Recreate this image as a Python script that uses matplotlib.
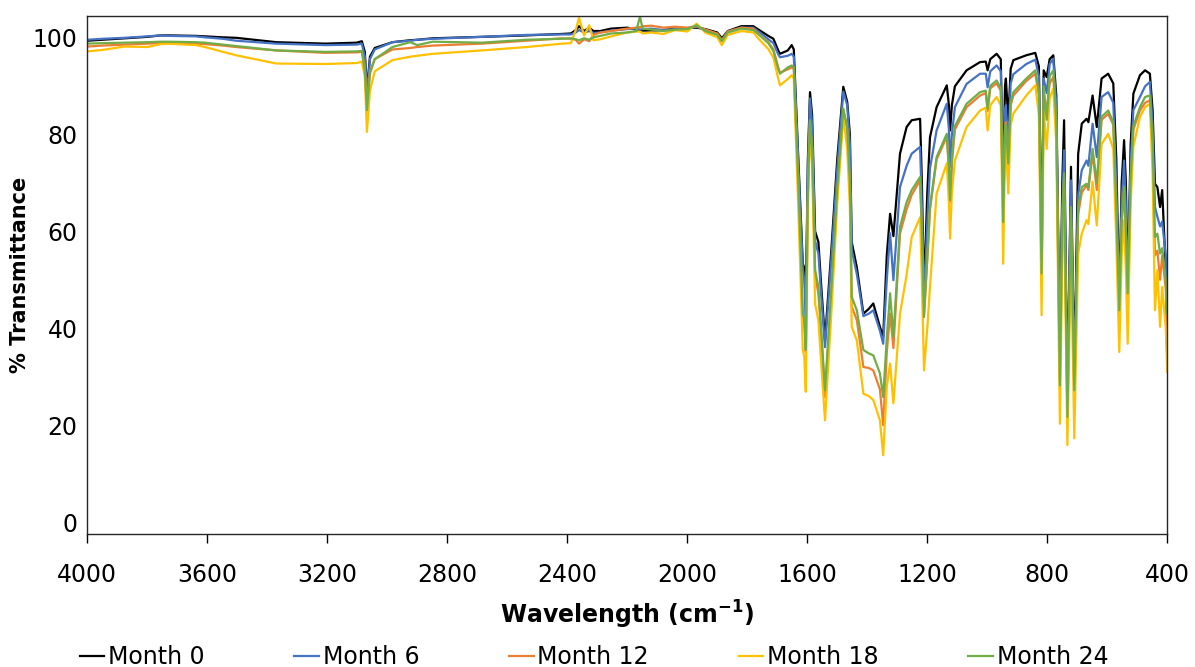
import matplotlib
matplotlib.use("Agg")
import matplotlib.pyplot as plt
import numpy as np

# wavenumber grid (cm-1), high to low
wavenumber = [4000, 3950, 3876, 3800, 3756, 3728, 3638, 3608, 3548, 3504,
              3370, 3206, 3102, 3085, 3075, 3068, 3058, 3042, 2983, 2924,
              2900, 2849, 2685, 2536, 2418, 2388, 2372, 2361, 2344, 2327,
              2313, 2290, 2254, 2200, 2170, 2158, 2149, 2120, 2080, 2040,
              2000, 1969, 1940, 1900, 1885, 1865, 1820, 1780, 1758, 1730,
              1713, 1697, 1691, 1665, 1652, 1645, 1630, 1615, 1610, 1605,
              1598, 1591, 1584, 1574, 1563, 1555, 1541, 1520, 1500, 1480,
              1467, 1458, 1452, 1435, 1413, 1395, 1380, 1358, 1347, 1335,
              1324, 1313, 1291, 1269, 1252, 1224, 1218, 1211, 1200, 1191,
              1169, 1135, 1128, 1124, 1118, 1108, 1069, 1024, 1005, 999,
              990, 969, 955, 947, 941, 938, 930, 922, 913, 870,
              840, 828, 819, 812, 802, 792, 780, 770, 758, 750,
              744, 733, 721, 710, 697, 685, 669, 663, 649, 635,
              619, 597, 580, 570, 560, 552, 544, 538, 532, 522,
              513, 491, 474, 458, 449, 441, 433, 424, 417, 405, 400]

month_0 = [99.3, 99.5, 99.8, 100.1, 100.4, 100.4, 100.3, 100.2, 100.0, 99.9,
           99.0, 98.7, 98.9, 99.2, 97.0, 89.0, 96.0, 97.8, 99.0, 99.4,
           99.5, 99.8, 100.1, 100.4, 100.7, 100.8, 101.5, 102.3, 101.3, 102.0,
           101.3, 101.3, 101.8, 102.0, 101.6, 101.5, 101.4, 101.4, 101.5, 101.8,
           101.9, 102.0, 101.7, 101.0, 99.8, 101.3, 102.3, 102.3, 101.4, 100.3,
           99.7, 97.3, 96.6, 97.3, 98.4, 97.5, 75.0, 53.3, 52.5, 45.0,
           75.0, 88.7, 84.0, 60.0, 57.8, 50.0, 37.5, 56.0, 75.0, 89.8,
           86.7, 80.0, 57.8, 52.6, 43.0, 44.0, 45.1, 40.3, 38.2, 55.0,
           63.6, 59.0, 76.0, 81.5, 82.9, 83.2, 70.0, 47.0, 68.0, 79.4,
           85.6, 90.1, 86.0, 80.8, 86.0, 89.9, 93.2, 94.9, 95.0, 93.2,
           95.5, 96.6, 95.5, 68.0, 90.0, 91.5, 82.9, 93.5, 95.3, 96.3,
           96.8, 94.0, 55.0, 93.2, 91.8, 95.5, 96.3, 88.0, 34.0, 70.0,
           82.9, 25.0, 73.3, 30.0, 76.0, 82.2, 83.2, 82.5, 88.0, 81.5,
           91.5, 92.5, 90.5, 75.0, 45.0, 70.0, 78.8, 70.0, 48.0, 78.0,
           88.4, 92.2, 93.2, 92.5, 85.0, 69.8, 69.1, 65.0, 68.5, 52.0, 33.0]

month_6 = [99.5, 99.7, 99.9, 100.2, 100.4, 100.3, 100.2, 100.0, 99.7, 99.3,
           98.7, 98.4, 98.5, 98.7, 96.0, 88.0, 95.5, 97.5, 99.0, 99.3,
           99.5, 99.7, 100.1, 100.5, 100.6, 100.6, 101.0, 101.5, 101.0, 101.3,
           100.9, 101.0, 101.4, 101.7, 101.8, 101.6, 101.7, 101.8, 101.5, 101.7,
           101.8, 102.2, 101.6, 100.7, 99.4, 101.2, 102.0, 102.0, 101.0, 99.6,
           98.8, 96.5, 95.9, 96.2, 96.6, 96.0, 74.0, 52.3, 50.0, 42.0,
           74.0, 87.4, 82.0, 58.0, 55.4, 48.0, 36.1, 54.0, 73.0, 88.8,
           86.0, 78.0, 56.2, 51.2, 42.5, 43.0, 43.7, 39.5, 36.8, 50.0,
           59.6, 49.9, 69.1, 73.5, 76.0, 77.4, 65.0, 45.0, 62.0, 73.0,
           80.8, 86.3, 81.0, 73.3, 80.0, 85.6, 90.4, 92.5, 92.5, 89.7,
           93.0, 94.2, 93.0, 65.0, 85.0, 86.0, 77.4, 90.5, 92.4, 94.5,
           95.4, 92.0, 52.0, 91.5, 88.5, 94.5, 95.6, 86.0, 32.0, 65.0,
           76.7, 24.0, 70.5, 28.0, 67.5, 72.6, 74.6, 73.5, 82.2, 75.3,
           87.7, 88.7, 86.5, 70.0, 44.0, 66.0, 74.6, 65.0, 47.0, 74.0,
           85.0, 87.7, 89.9, 90.8, 82.0, 65.0, 63.0, 61.0, 62.0, 55.0, 48.0]

month_12 = [98.1, 98.3, 98.5, 98.7, 98.8, 98.8, 98.7, 98.6, 98.3, 98.0,
            97.3, 96.8, 96.9, 97.0, 94.0, 86.0, 93.0, 95.5, 97.5, 97.8,
            98.0, 98.3, 98.7, 99.3, 99.8, 99.7, 99.5, 98.7, 99.6, 99.2,
            100.5, 101.0, 101.3, 101.8, 102.0, 102.1, 102.3, 102.4, 102.0, 102.2,
            102.0, 102.3, 101.6, 100.8, 99.4, 101.2, 102.0, 101.8, 100.4, 99.0,
            97.5, 93.8, 92.7, 93.4, 93.8, 93.5, 70.0, 42.0, 41.0, 35.0,
            68.0, 82.6, 77.0, 51.0, 47.1, 40.0, 25.8, 47.0, 68.0, 85.0,
            81.0, 70.0, 44.5, 41.7, 32.0, 31.8, 31.3, 27.4, 20.0, 35.0,
            43.0, 35.9, 59.5, 64.5, 67.5, 70.5, 60.0, 43.0, 54.0, 64.5,
            74.8, 79.5, 73.0, 66.0, 74.0, 81.0, 85.6, 88.0, 88.5, 84.8,
            89.5, 90.5, 89.0, 62.5, 81.0, 82.5, 73.0, 86.0, 88.0, 91.0,
            92.5, 88.0, 51.0, 88.0, 85.0, 90.5, 91.8, 82.0, 29.0, 62.0,
            71.0, 22.0, 63.6, 27.0, 63.5, 68.0, 69.5, 68.5, 76.1, 68.5,
            83.0, 84.2, 82.0, 65.0, 42.0, 62.0, 68.5, 60.0, 47.0, 70.0,
            81.0, 84.9, 86.5, 87.0, 78.0, 55.0, 56.0, 50.0, 55.0, 48.0, 37.0]

month_18 = [97.1, 97.4, 98.1, 98.0, 98.6, 98.7, 98.4, 98.0, 97.0, 96.3,
            94.6, 94.5, 94.7, 95.0, 92.0, 80.5, 89.0, 93.0, 95.3, 96.0,
            96.2, 96.6, 97.3, 98.0, 98.7, 98.8, 101.5, 104.0, 100.4, 102.5,
            99.4, 99.6, 100.2, 101.0, 101.2, 101.2, 100.8, 101.0, 100.7, 101.5,
            101.2, 102.8, 101.0, 100.0, 98.4, 100.5, 101.3, 101.0, 99.4, 97.6,
            95.8, 91.5, 90.1, 91.4, 92.2, 91.5, 65.0, 35.5, 34.0, 26.9,
            65.0, 80.8, 74.0, 45.0, 41.6, 34.0, 21.0, 43.0, 66.0, 83.6,
            77.0, 65.0, 40.3, 37.5, 26.5, 26.0, 25.2, 21.0, 13.8, 28.0,
            32.7, 24.5, 43.0, 51.0, 58.8, 62.9, 50.0, 31.3, 40.0, 48.5,
            67.8, 74.0, 66.0, 58.5, 68.0, 74.6, 81.5, 84.9, 85.5, 80.8,
            86.0, 87.7, 86.0, 53.3, 77.0, 78.0, 67.8, 82.0, 84.3, 88.0,
            90.1, 84.0, 42.7, 85.0, 77.0, 87.5, 89.4, 78.0, 20.3, 55.0,
            66.0, 15.9, 57.0, 17.3, 55.4, 59.5, 62.3, 61.5, 70.2, 61.2,
            78.0, 80.1, 77.0, 58.0, 35.1, 55.0, 62.3, 52.0, 36.8, 66.0,
            77.5, 83.6, 85.6, 86.3, 72.0, 43.7, 52.0, 40.3, 48.5, 40.0, 31.0]

month_24 = [98.7, 98.8, 98.9, 99.0, 99.1, 99.1, 99.0, 98.9, 98.5, 98.2,
            97.3, 97.0, 97.1, 97.2, 93.0, 85.0, 92.5, 95.5, 98.0, 99.0,
            98.4, 99.1, 98.9, 99.5, 99.7, 99.8, 99.6, 99.4, 99.8, 99.5,
            100.0, 100.3, 100.8, 101.0, 101.3, 104.3, 101.8, 101.6, 101.3, 101.6,
            101.7, 102.5, 101.3, 100.5, 99.2, 101.0, 101.8, 101.5, 100.4, 98.8,
            97.2, 93.5, 92.5, 93.8, 94.2, 93.8, 70.0, 43.0, 42.0, 35.5,
            68.0, 82.9, 77.0, 52.0, 48.5, 41.0, 27.2, 48.0, 69.0, 85.3,
            81.5, 70.0, 46.5, 43.7, 35.5, 34.8, 34.4, 30.7, 25.8, 38.0,
            47.2, 38.2, 60.9, 66.0, 68.5, 71.2, 60.0, 42.3, 55.0, 65.0,
            75.3, 80.1, 73.0, 66.4, 75.0, 81.7, 86.3, 88.7, 89.0, 85.3,
            90.0, 91.1, 89.5, 61.9, 81.0, 82.0, 74.0, 86.5, 88.7, 91.5,
            93.2, 89.0, 51.3, 89.9, 83.0, 92.0, 93.2, 83.0, 28.2, 62.0,
            72.0, 21.7, 65.0, 27.2, 65.0, 69.1, 69.8, 69.0, 77.0, 70.0,
            83.6, 84.9, 82.5, 65.0, 43.7, 62.0, 69.1, 60.0, 47.2, 71.0,
            81.7, 85.6, 87.7, 88.0, 78.0, 58.8, 59.5, 55.4, 56.5, 50.0, 43.0]

labels = ["Month 0", "Month 6", "Month 12", "Month 18", "Month 24"]
colors = ["#000000", "#4472C4", "#ED7D31", "#FFC000", "#70AD47"]
series = [month_0, month_6, month_12, month_18, month_24]

fig = plt.figure(figsize=(11.95, 6.67), dpi=100)
ax = fig.add_axes([0.0731, 0.199, 0.9037, 0.777])

for s, c, lab in zip(series, colors, labels):
    ax.plot(wavenumber, s, color=c, lw=1.6, label=lab)

ax.set_xlim(4000, 400)
ax.set_ylim(-2.5, 104.4)
ax.set_xticks(np.arange(4000, 399, -400))
ax.set_yticks(np.arange(0, 101, 20))
ax.tick_params(axis="x", direction="out", length=6.5, width=1, pad=14, labelsize=17)
ax.tick_params(axis="y", length=0, pad=7, labelsize=17)
for sp in ax.spines.values():
    sp.set_linewidth(1.0)
    sp.set_color("#262626")

ax.set_xlabel("Wavelength (cm$^{\\mathbf{-1}}$)", fontsize=17, fontweight="bold", labelpad=9)
ax.set_ylabel("% Transmittance", fontsize=15, fontweight="bold", labelpad=2)

fig.legend(loc="lower center", bbox_to_anchor=(0.497, -0.035), ncol=5, frameon=False,
           fontsize=17, handlelength=1.05, handletextpad=0.15, columnspacing=3.8)

fig.savefig("out.png", dpi=100)
